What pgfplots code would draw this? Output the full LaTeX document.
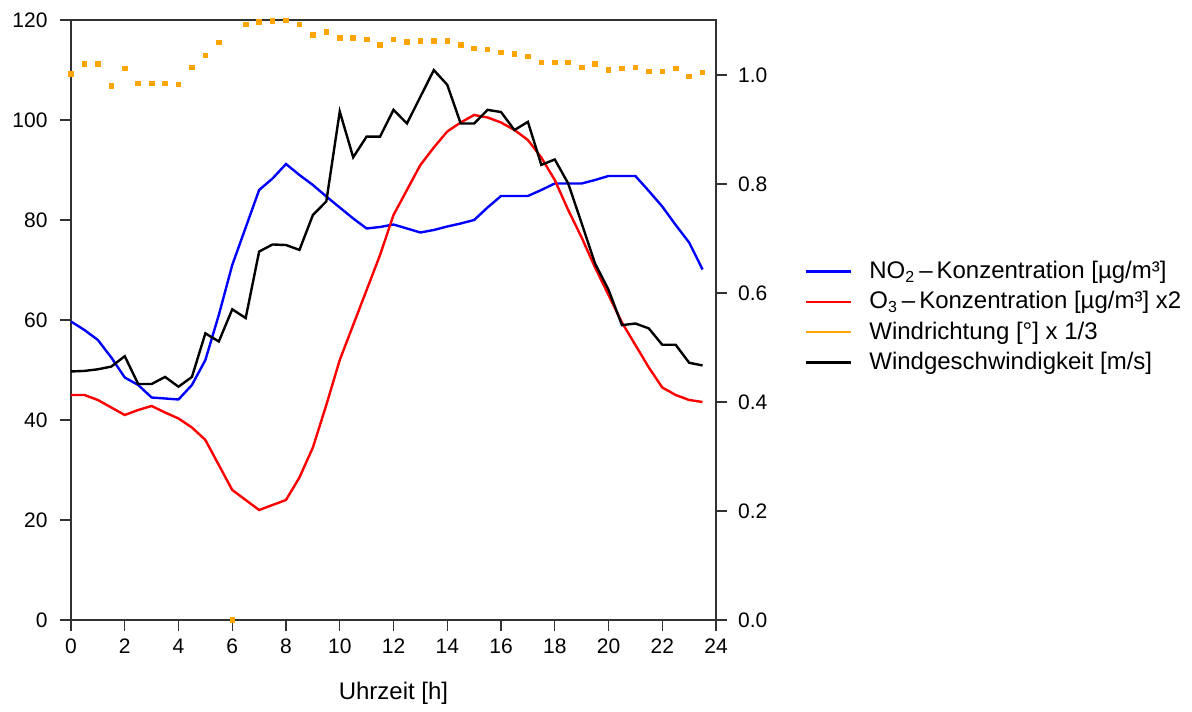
\documentclass[border=0pt]{standalone}
\usepackage{fontspec}
\setmainfont{Liberation Sans}
\usepackage{pgfplots}
\usepackage{pgfplotstable}
\pgfplotsset{compat=1.18}

% t: hour, no2, o3 (x2), wr: wind direction /3, ws: wind speed
\pgfplotstableread{
t    no2   o3    wr     ws
0    59.7  45.0  109.2  0.456
0.5  58.0  45.0  111.2  0.457
1    56.0  44.0  111.2  0.460
1.5  52.5  42.5  106.8  0.465
2    48.5  41.0  110.3  0.484
2.5  47.0  42.0  107.3  0.433
3    44.5  42.8  107.3  0.433
3.5  44.3  41.5  107.3  0.446
4    44.1  40.3  107.1  0.428
4.5  47.0  38.5  110.5  0.446
5    52.0  36.0  112.9  0.526
5.5  61.0  31.0  115.5  0.511
6    71.0  26.0  0.0    0.570
6.5  78.5  24.0  119.1  0.554
7    86.0  22.0  119.6  0.676
7.5  88.3  23.0  119.8  0.689
8    91.2  24.0  119.9  0.688
8.5  89.0  28.5  119.1  0.679
9    87.0  34.5  117.0  0.743
9.5  84.7  43.0  117.6  0.768
10   82.5  52.0  116.4  0.933
10.5 80.3  59.0  116.4  0.849
11   78.3  66.0  116.1  0.887
11.5 78.6  73.0  115.0  0.887
12   79.1  81.0  116.1  0.936
12.5 78.3  86.0  115.6  0.911
13   77.5  91.0  115.8  0.960
13.5 78.0  94.5  115.8  1.009
14   78.7  97.7  115.8  0.982
14.5 79.3  99.5  115.0  0.911
15   80.0  101.0 114.3  0.911
15.5 82.5  100.5 114.1  0.936
16   84.8  99.5  113.5  0.932
16.5 84.8  98.0  113.2  0.899
17   84.8  96.0  112.7  0.914
17.5 86.0  92.5  111.5  0.835
18   87.3  88.0  111.5  0.845
18.5 87.3  82.0  111.5  0.801
19   87.3  76.5  110.5  0.728
19.5 88.0  70.5  111.2  0.654
20   88.8  65.0  110.0  0.606
20.5 88.8  59.5  110.3  0.541
21   88.8  55.0  110.5  0.544
21.5 85.8  50.5  109.7  0.535
22   82.7  46.5  109.7  0.505
22.5 79.0  45.0  110.3  0.505
23   75.5  44.0  108.7  0.472
23.5 70.1  43.6  109.5  0.467
}\data

\definecolor{wrorange}{RGB}{255,165,0}
\definecolor{axgray}{RGB}{50,50,50}

\begin{document}
\begin{tikzpicture}
\pgfplotsset{
  every axis/.append style={
    scale only axis, width=322.5pt, height=300pt,
    xmin=0, xmax=24,
    tick align=outside,
    major tick length=5.5pt,
    tick style={axgray, line width=0.6pt},
    axis line style={axgray, line width=0.6pt},
    tick label style={font=\fontsize{10.5}{12}\selectfont},
    /pgf/number format/assume math mode=true,
  }
}
\begin{axis}[
  name=main,
  ymin=0, ymax=120,
  xtick={0,2,...,24},
  ytick={0,20,...,120},
  xtick pos=bottom, ytick pos=left,
  yticklabel style={xshift=-2.7pt},
  xticklabel style={yshift=-0.3pt},
  xlabel={Uhrzeit [h]},
  xlabel style={font=\fontsize{12}{14}\selectfont, at={(axis description cs:0.5,0)},
    anchor=base, yshift=-40pt},
  legend style={at={(1.128,0.505)}, anchor=west, draw=none, fill=none,
    font=\fontsize{12}{14}\selectfont, row sep=1pt},
  legend cell align=left,
  legend image code/.code={\draw[#1, line width=1.2pt] (0pt,0pt) -- (22.5pt,0pt); \path (29pt,0pt);},
]
\addplot[blue, line width=1.2pt] table[x=t, y=no2] {\data};
\addplot[red, line width=1.2pt] table[x=t, y=o3] {\data};
\addplot[only marks, mark=square*, mark size=1.15pt, wrorange, forget plot] table[x=t, y=wr] {\data};
\addlegendimage{wrorange}
\addlegendimage{black}
\legend{NO\textsubscript{2}\,–\,Konzentration [µg/m³],
        O\textsubscript{3}\,–\,Konzentration [µg/m³] x2,
        Windrichtung [°] x 1/3,
        Windgeschwindigkeit [m/s]}
\end{axis}
\begin{axis}[
  ymin=0, ymax=1.1009,
  axis y line*=right, axis x line=none,
  ytick={0,0.2,...,1.0},
  yticklabel style={xshift=2pt, /pgf/number format/.cd, fixed, fixed zerofill, precision=1},
]
\addplot[black, line width=1.2pt] table[x=t, y=ws] {\data};
\end{axis}
\path (main.south west) ++(-35.5pt,-43.5pt) rectangle ++(596pt,353.5pt);
\end{tikzpicture}
\end{document}
